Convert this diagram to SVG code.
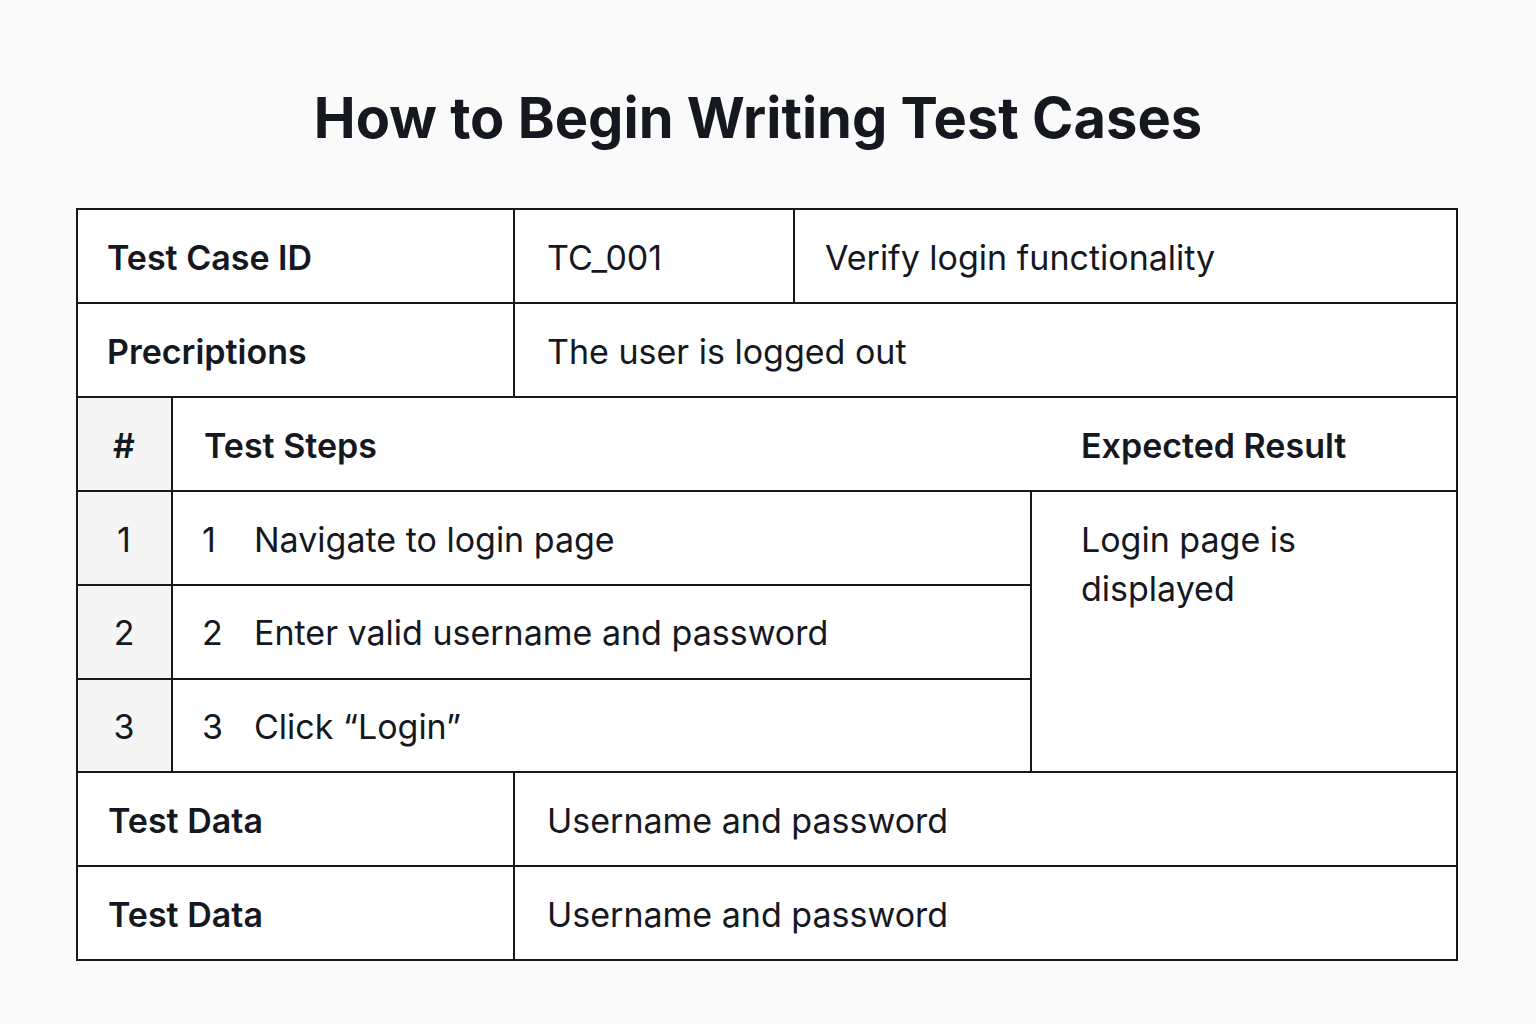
<svg xmlns="http://www.w3.org/2000/svg" width="1536" height="1024" viewBox="0 0 1536 1024">
<style>
text{font-family:Inter,"Liberation Sans",sans-serif;fill:#15181f;font-size:34px}
.b{font-weight:600}
.t{font-size:56px;font-weight:700}
line{stroke:#15181f;stroke-width:2}
</style>
<rect width="1536" height="1024" fill="#fafafa"/>
<text class="t" x="758" y="138" text-anchor="middle">How to Begin Writing Test Cases</text>
<rect x="77" y="209" width="1380" height="751" fill="#fff"/>
<rect x="77" y="397" width="95" height="375" fill="#f5f5f5"/>
<g id="grid">
<rect x="77" y="209" width="1380" height="751" fill="none" stroke="#15181f" stroke-width="2"/>
<line x1="77" y1="303" x2="1457" y2="303"/>
<line x1="77" y1="397" x2="1457" y2="397"/>
<line x1="77" y1="491" x2="1457" y2="491"/>
<line x1="77" y1="585" x2="1031" y2="585"/>
<line x1="77" y1="679" x2="1031" y2="679"/>
<line x1="77" y1="772" x2="1457" y2="772"/>
<line x1="77" y1="866" x2="1457" y2="866"/>
<line x1="514" y1="209" x2="514" y2="397"/>
<line x1="794" y1="209" x2="794" y2="303"/>
<line x1="172" y1="397" x2="172" y2="772"/>
<line x1="1031" y1="491" x2="1031" y2="772"/>
<line x1="514" y1="772" x2="514" y2="960"/>
</g>
<text class="b" x="107" y="270">Test Case ID</text>
<text x="547" y="270">TC_001</text>
<text x="825" y="270">Verify login functionality</text>
<text class="b" x="107" y="364">Precriptions</text>
<text x="547" y="364">The user is logged out</text>
<text class="b" x="124" y="458" text-anchor="middle">#</text>
<text class="b" x="204" y="458">Test Steps</text>
<text class="b" x="1081" y="458">Expected Result</text>
<text x="124" y="552" text-anchor="middle">1</text>
<text x="202" y="552">1</text><text x="254" y="552">Navigate to login page</text>
<text x="124" y="645" text-anchor="middle">2</text>
<text x="202" y="645">2</text><text x="254" y="645">Enter valid username and password</text>
<text x="124" y="739" text-anchor="middle">3</text>
<text x="202" y="739">3</text><text x="254" y="739">Click “Login”</text>
<text x="1081" y="552">Login page is</text>
<text x="1081" y="601">displayed</text>
<text class="b" x="108" y="833">Test Data</text>
<text x="547" y="833">Username and password</text>
<text class="b" x="108" y="927">Test Data</text>
<text x="547" y="927">Username and password</text>
</svg>
